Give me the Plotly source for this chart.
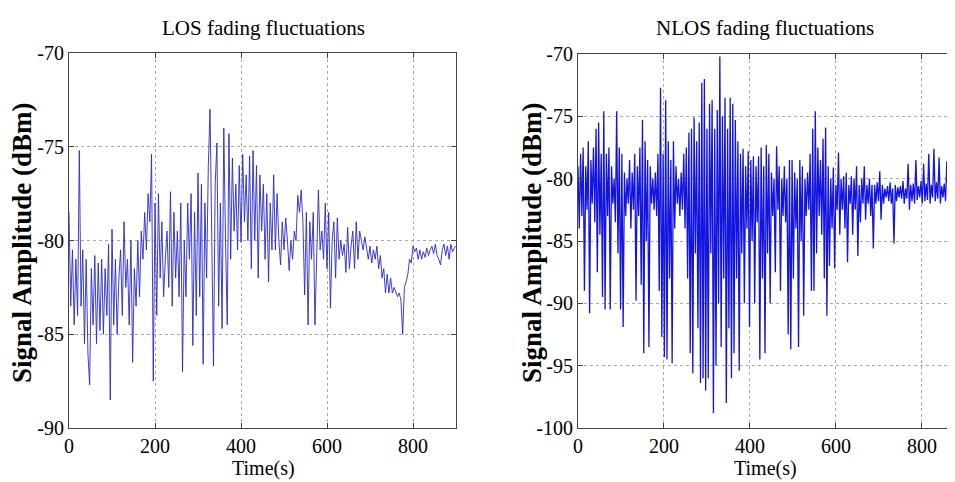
import numpy as np
import plotly.graph_objects as go
from plotly.subplots import make_subplots

# LOS signal, one reading every 4 s (dBm)
los_step = 4
los_dbm = [
    -78.5, -83.5, -80.5, -84.5, -81, -84, -75.2, -83.5, -80.5, -85.5,
    -81, -86, -87.7, -81.5, -84.5, -80.8, -85.5, -81.2, -84.8, -81,
    -85, -81.5, -84, -80.2, -88.5, -79.4, -84.5, -81, -85, -82,
    -80.5, -84, -79, -82.5, -81, -84.5, -80, -86.5, -81.5, -83.5,
    -80, -83, -79.5, -81, -78.5, -80.5, -77.5, -79, -75.4, -87.5,
    -78, -84, -77.5, -82, -79, -83, -81, -79.5, -82.5, -77.4,
    -83.5, -78.5, -82, -79.5, -83, -78, -87, -80, -83, -78,
    -81, -77.5, -85.6, -78.5, -84, -76.4, -83, -77, -86.6, -78,
    -82, -76, -73, -80, -86.7, -77, -74.8, -83.5, -78, -84.7,
    -74, -80, -84.5, -74.3, -81, -75.6, -79.5, -77, -80.5, -76,
    -80.1, -75.4, -79, -76.5, -80, -75.5, -81.5, -75.2, -80, -76,
    -82, -76.5, -79.5, -77, -81, -77.5, -82.2, -78, -80.5, -76.5,
    -80.5, -77.5, -80, -81.3, -79, -80.5, -78.8, -80, -81.6, -80,
    -81, -79.5, -80, -77.6, -78.5, -77.3, -79, -82.9, -78.5, -84.5,
    -79, -81, -78.5, -84.5, -80, -77.3, -80.5, -79.5, -81, -78,
    -81.5, -78.5, -83.6, -80, -79, -82, -78.8, -81, -80, -80.8,
    -80.2, -81.7, -79.3, -81.5, -80.3, -79.5, -81.5, -79, -81, -79.5,
    -80, -80.5, -79.8, -80.3, -81, -80.3, -81.2, -80.5, -81, -80.3,
    -81.5, -80.8, -82, -81.5, -82.8, -81.8, -82.8, -82, -82.8, -82.5,
    -82.8, -83, -82.8, -83.2, -85, -82.5, -82.2, -81.8, -81, -81.2,
    -80.3, -80.6, -80.4, -81, -80.5, -81, -80.6, -80.9, -80.4, -80.8,
    -80.5, -80.3, -80.7, -80.2, -80.8, -81, -81.3, -80.5, -80.2, -80.8,
    -80.3, -81, -80.2, -80.6, -80.4, -80.3,
]

# NLOS signal, one reading every 3 s (dBm)
nlos_step = 3
nlos_dbm = [
    -79, -84, -78, -83, -77.5, -89, -79, -82.5, -77, -90.8,
    -78.5, -82, -77.5, -83.5, -76, -87.5, -75.5, -84.5, -78, -89.5,
    -74.6, -90.5, -78, -83, -77.5, -90.5, -79, -82, -80, -83.5,
    -74.6, -86, -77.5, -90.5, -78, -91.9, -79.5, -83, -80, -82,
    -78.5, -84, -79.5, -82.5, -78, -89.8, -79, -83, -77.5, -88.5,
    -75.3, -94, -77, -85, -78.5, -93.5, -79, -82, -80, -82.5,
    -79.5, -83, -78, -89, -72.7, -92.7, -78, -94.3, -73.7, -94.5,
    -77, -88, -78.5, -94.8, -77, -84, -79, -82, -80, -83,
    -79.5, -82.5, -78, -84, -77.5, -88, -76.3, -94, -76, -95.6,
    -75.1, -86, -77, -92, -75.5, -96.4, -72.3, -96, -72, -97,
    -76, -96, -74, -86, -73.7, -98.8, -76, -95, -74.5, -90,
    -70.2, -93.5, -75, -88, -73.5, -98, -76, -92, -73.5, -96,
    -74, -94, -75.3, -88, -77, -95.4, -78, -86, -77.6, -90,
    -79, -84, -77.8, -91.9, -78.5, -85, -78.2, -90, -79, -83.5,
    -78.2, -94.5, -77.5, -88, -79, -94, -77.3, -86, -78, -90,
    -79.5, -83, -80, -87.5, -77.4, -82.5, -79, -89, -80, -83,
    -79, -83.5, -80, -92.5, -78.5, -93.7, -78.5, -88, -79.5, -84,
    -80, -93.5, -78.5, -85, -79, -91, -80, -83, -79.5, -82.5,
    -78, -89, -76, -89, -74.6, -86, -77.5, -83, -78.5, -84.5,
    -76.8, -88, -75.9, -91, -79, -87, -80, -84, -79.1, -87.2,
    -80.5, -82.5, -77.9, -84.5, -80, -82.5, -79.8, -84, -79.5, -86.7,
    -80.5, -82, -79.8, -84.5, -80, -82.5, -79, -86.2, -80.5, -83.5,
    -80, -82, -79, -83.3, -80.5, -82, -80, -83, -80.5, -85.6,
    -80.5, -82, -80.3, -81.8, -79.4, -83.3, -80.5, -82, -80.8, -81.5,
    -80.6, -81.8, -80.3, -82, -80.8, -85.2, -80.5, -81.8, -80.7, -81.5,
    -80.6, -81.6, -80.2, -82, -80.8, -81.6, -78.8, -82.5, -80.5, -81.8,
    -80.4, -82, -78.5, -81.7, -80.6, -81.5, -80.2, -82, -78.8, -81.8,
    -80.4, -81.7, -78, -82, -80.5, -81.5, -77.6, -81.8, -80.3, -81.6,
    -78.3, -82, -80.6, -81.5, -80.4, -81.8, -78.6, -81.6, -80.5, -82,
    -79, -81.8, -80.6, -81.5, -80.8, -81.6, -80.7, -81.7, -80.9, -81.5,
]

titles = ["LOS fading fluctuations", "NLOS fading fluctuations"]
x_ticks = [0, 200, 400, 600, 800]
los_y_ticks = [-90, -85, -80, -75, -70]
nlos_y_ticks = [-100, -95, -90, -85, -80, -75, -70]

t_los = np.arange(len(los_dbm)) * los_step
t_nlos = np.arange(len(nlos_dbm)) * nlos_step

# the page body has an 8px margin, so the figure is that much smaller
OFF = 8
W, H = 955 - OFF, 482 - OFF


def fx(px):
    return (px - OFF) / W


def fy(py):
    return 1 - (py - OFF) / H


serif = "Liberation Serif"

fig = make_subplots(rows=1, cols=2)
fig.add_trace(go.Scatter(x=t_los, y=los_dbm, mode="lines",
                         line=dict(color="rgb(40,40,210)", width=0.9)), row=1, col=1)
fig.add_trace(go.Scatter(x=t_nlos, y=nlos_dbm, mode="lines",
                         line=dict(color="rgb(20,20,225)", width=1.3)), row=1, col=2)

ax_common = dict(showline=True, linecolor="#444", linewidth=1, automargin=False,
                 ticks="inside", ticklen=5, tickcolor="#444",
                 showgrid=True, gridcolor="#aaa", griddash="dot", gridwidth=1,
                 zeroline=False, tickfont=dict(family=serif, size=20, color="black"))

fig.update_xaxes(ax_common, mirror="ticks", tickvals=x_ticks, ticktext=[str(v) for v in x_ticks])
fig.update_yaxes(ax_common)
fig.update_xaxes(row=1, col=1, domain=[fx(69), fx(456)], range=[0, 900])
fig.update_xaxes(row=1, col=2, domain=[fx(578), 1.0], range=[0, 877])
fig.update_yaxes(row=1, col=1, domain=[fy(428), fy(53)], range=[-90, -70], mirror="ticks",
                 tickvals=los_y_ticks, ticktext=[str(v) for v in los_y_ticks])
fig.update_yaxes(row=1, col=2, domain=[fy(428), fy(54)], range=[-100, -70], mirror=False,
                 tickvals=nlos_y_ticks, ticktext=[str(v) for v in nlos_y_ticks])

annots = []
for xc, ttl in zip([263, 765], titles):
    annots.append(dict(x=fx(xc), y=fy(28), xref="paper", yref="paper", text=ttl,
                       xanchor="center", yanchor="middle", showarrow=False,
                       font=dict(family=serif, size=21, color="black")))
for xc in [263, 765]:
    annots.append(dict(x=fx(xc), y=fy(468), xref="paper", yref="paper", text="Time(s)",
                       xanchor="center", yanchor="middle", showarrow=False,
                       font=dict(family=serif, size=20, color="black")))
for xc, yc in [(22, 243), (532, 243)]:
    annots.append(dict(x=fx(xc), y=fy(yc), xref="paper", yref="paper",
                       text="<b>Signal Amplitude (dBm)</b>", textangle=-90,
                       xanchor="center", yanchor="middle", showarrow=False,
                       font=dict(family=serif, size=27, color="black")))

fig.update_layout(width=W, height=H, margin=dict(l=0, r=0, t=0, b=0),
                  showlegend=False, plot_bgcolor="white", paper_bgcolor="white",
                  annotations=annots)

fig.write_html("out.html")
